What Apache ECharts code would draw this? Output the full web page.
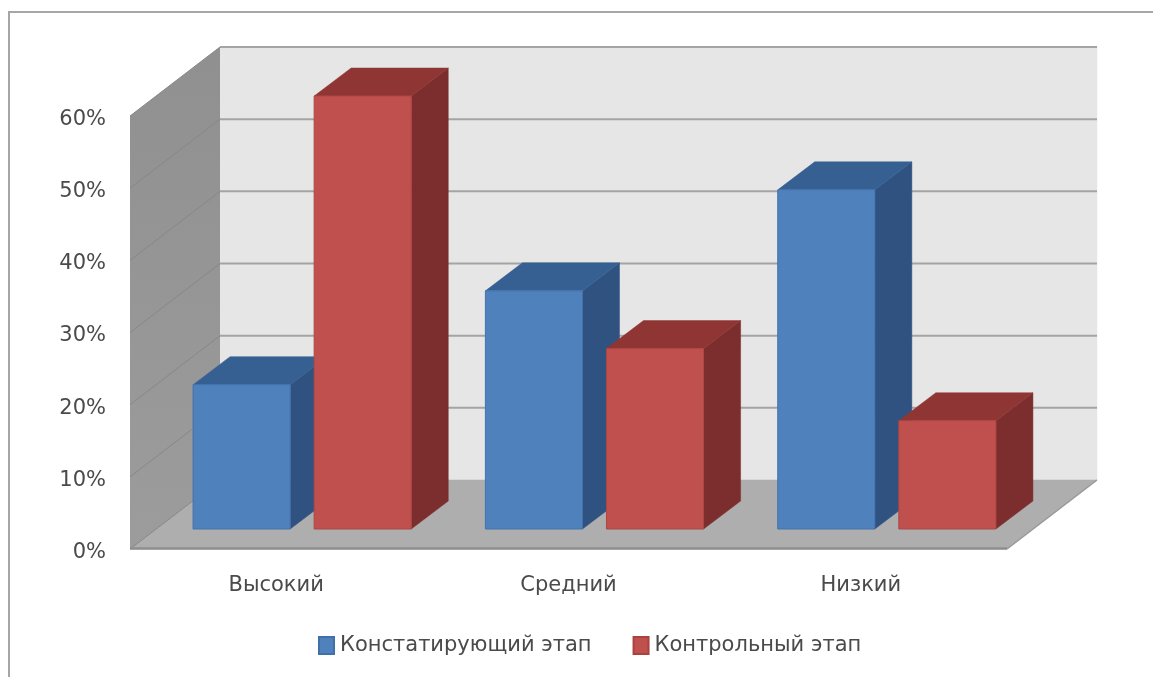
<!DOCTYPE html>
<html>
<head>
<meta charset="utf-8">
<style>html,body{margin:0;padding:0;background:#fff}#c{width:1153px;height:677px}</style>
<script src="https://cdn.jsdelivr.net/npm/echarts@6/dist/echarts.min.js"></script>
</head>
<body>
<div id="c"></div>
<script>
const categories = ['Высокий', 'Средний', 'Низкий'];
const seriesNames = ['Констатирующий этап', 'Контрольный этап'];
const stage1 = [20, 33, 47];
const stage2 = [60, 25, 15];
const tickValues = [0, 10, 20, 30, 40, 50, 60];

const FONT = '"DejaVu Sans", sans-serif';
const TEXT = '#4a4a4a';
const WALL = [90, -69], PLANE = [26, -20], BAR_D = [37, -28];
const BAR_W = 0.3322, BAR_GAP = 0.082;

function poly(points, fill, stroke, lw) {
  return { type: 'polygon', shape: { points }, style: { fill, stroke: stroke || fill, lineWidth: lw === undefined ? 0.5 : lw } };
}
function line(a, b, stroke, lw) {
  return { type: 'line', shape: { x1: a[0], y1: a[1], x2: b[0], y2: b[1] }, style: { stroke, lineWidth: lw } };
}
function add(p, d) { return [p[0] + d[0], p[1] + d[1]]; }

function renderWalls(params, api) {
  const r = params.coordSys;
  const tl = [r.x, r.y], bl = [r.x, r.y + r.height], br = [r.x + r.width, r.y + r.height];
  const tr = [r.x + r.width, r.y];
  const wallFill = new echarts.graphic.LinearGradient(0, 0, 0, 1, [
    { offset: 0, color: '#909090' }, { offset: 1, color: '#9c9c9c' }
  ]);
  return { type: 'group', children: [
    poly([add(tl, WALL), add(tr, WALL), add(br, WALL), add(bl, WALL)], '#e6e6e6'),
    { type: 'polygon', shape: { points: [tl, add(tl, WALL), add(bl, WALL), bl] }, style: { fill: wallFill } },
    poly([bl, add(bl, WALL), add(br, WALL), br], '#aeaeae'),
    line(add(br, WALL), br, '#999999', 1.5),
    line([bl[0], bl[1] - 0.5], [br[0], br[1] - 0.5], '#8e8e8e', 2.5),
    line(bl, add(bl, WALL), '#a0a0a0', 1)
  ] };
}
function renderGrid(params, api) {
  const r = params.coordSys;
  const p = api.coord([0, api.value(1)]);
  const left = [r.x, p[1]], right = [r.x + r.width, p[1]];
  const kids = [line(left, add(left, WALL), '#878787', 1)];
  if (api.value(1) > 0) kids.push(line(add(left, WALL), add(right, WALL), '#a4a4a4', 2));
  return { type: 'group', children: kids };
}
function barRenderer(side, front, right, top, edge) {
  return function (params, api) {
    const band = api.size([1, 0])[0];
    const w = band * BAR_W, g = band * BAR_GAP;
    const c = api.coord([api.value(0), api.value(1)]);
    const b = api.coord([api.value(0), 0]);
    const x0 = c[0] + (side < 0 ? -g / 2 - w : g / 2);
    const a = add([x0, c[1]], PLANE), d = add([x0 + w, c[1]], PLANE);
    const e = add([x0 + w, b[1]], PLANE), f = add([x0, b[1]], PLANE);
    return { type: 'group', children: [
      poly([d, add(d, BAR_D), add(e, BAR_D), e], right, right),
      poly([a, add(a, BAR_D), add(d, BAR_D), d], top, top),
      poly([a, d, e, f], front, edge, 1)
    ] };
  };
}

const chart = echarts.init(document.getElementById('c'), null, { renderer: 'canvas' });
chart.setOption({
  animation: false,
  backgroundColor: '#ffffff',
  textStyle: { fontFamily: FONT },
  graphic: [{ type: 'rect', shape: { x: 9, y: 12, width: 1300, height: 800 }, style: { fill: 'none', stroke: '#a6a6a6', lineWidth: 2 }, z: -1, silent: true }],
  grid: { left: 130, top: 116, width: 877, height: 433 },
  xAxis: { type: 'category', data: categories,
    axisLine: { show: false }, axisTick: { show: false }, splitLine: { show: false },
    axisLabel: { color: TEXT, fontSize: 21, fontFamily: FONT, margin: 26 } },
  yAxis: { type: 'value', min: 0, max: 60, interval: 10,
    axisLine: { show: false }, axisTick: { show: false }, splitLine: { show: false },
    axisLabel: { color: TEXT, fontSize: 21, fontFamily: FONT, margin: 24, formatter: '{a|{value}%}',
      rich: { a: { color: TEXT, fontSize: 21, fontFamily: FONT, padding: [7, 0, 0, 0] } } } },
  legend: { left: 318, top: 635, padding: 0, itemWidth: 15, itemHeight: 17, itemGap: 41,
    data: seriesNames.map(n => ({ name: n, icon: 'rect' })),
    textStyle: { color: TEXT, fontSize: 21, fontFamily: FONT, padding: [0, 0, 0, 1] } },
  series: [
    { type: 'custom', name: 'walls', silent: true, data: [[0, 0]], encode: { x: 0, y: 1 }, renderItem: renderWalls },
    { type: 'custom', name: 'grid', silent: true, data: tickValues.map(v => [0, v]), encode: { x: 0, y: 1 }, renderItem: renderGrid },
    { type: 'custom', name: seriesNames[0], itemStyle: { color: '#4f81bd', borderColor: '#3f70a8', borderWidth: 1 },
      data: stage1.map((v, i) => [i, v]), encode: { x: 0, y: 1 },
      renderItem: barRenderer(-1, '#4f81bd', '#2f5280', '#376092', '#4273ad') },
    { type: 'custom', name: seriesNames[1], itemStyle: { color: '#c0504d', borderColor: '#a84340', borderWidth: 1 },
      data: stage2.map((v, i) => [i, v]), encode: { x: 0, y: 1 },
      renderItem: barRenderer(1, '#c0504d', '#7b2e2d', '#8f3634', '#ae4644') }
  ]
});
</script>
</body>
</html>
